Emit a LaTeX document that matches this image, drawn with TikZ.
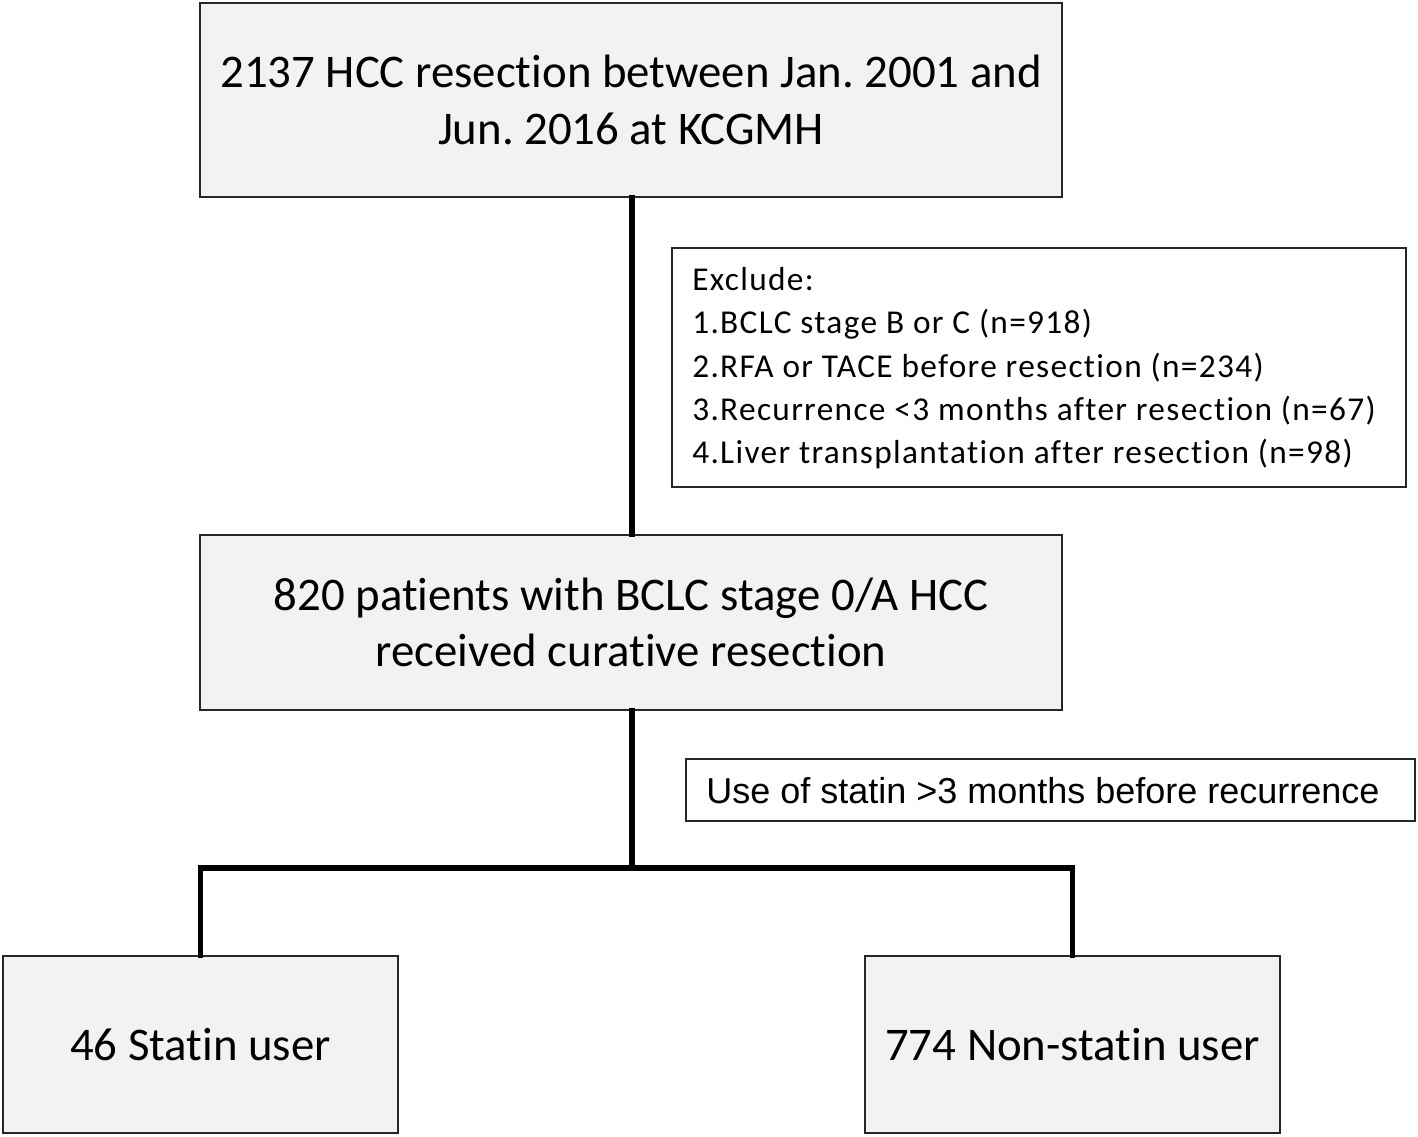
\documentclass[tikz,border=0pt]{standalone}
\usepackage{fontspec}
\setmainfont[Ligatures=NoCommon]{Carlito}
\newfontfamily\spacedfont[Ligatures=NoCommon,LetterSpace=4]{Carlito}
\newfontfamily\arialfont{Liberation Sans}
\frenchspacing
\begin{document}
\begin{tikzpicture}[x=0.75pt,y=-0.75pt,
  box/.style={draw=black!85,line width=1.5pt,fill=gray!10,inner sep=0pt,align=center,font=\fontsize{35.1}{42.3}\selectfont},
  wbox/.style={draw=black!85,line width=1.5pt,fill=white,inner sep=0pt},
  conn/.style={line width=3.8pt,line join=miter,line cap=rect}]
\useasboundingbox (0,0) rectangle (1418,1137);
\node[box,minimum width=862*0.75pt,minimum height=194*0.75pt] (b1) at (631,100)
  {2137 HCC resection between Jan. 2001 and\\Jun. 2016 at KCGMH};
\node[box,minimum width=862*0.75pt,minimum height=175*0.75pt] (b2) at (631,622.5)
  {820 patients with BCLC stage 0/A HCC\\received curative resection};
\node[box,minimum width=395*0.75pt,minimum height=177*0.75pt] (b3) at (200.5,1044.5)
  {46 Statin user};
\node[box,minimum width=415*0.75pt,minimum height=177*0.75pt] (b4) at (1072.5,1044.5)
  {774 Non-statin user};
\node[wbox,minimum width=734*0.75pt,minimum height=239*0.75pt] (ex) at (1039,367.5) {};
\node[anchor=base west,inner sep=0pt,align=left,font=\spacedfont\fontsize{25}{32.6}\selectfont] (ext) at (692,464)
  {Exclude:\\1.BCLC stage B or C (n=918)\\2.RFA or TACE before resection (n=234)\\3.Recurrence {<}3 months after resection (n=67)\\4.Liver transplantation after resection (n=98)};
\node[wbox,minimum width=729*0.75pt,minimum height=62*0.75pt] (st) at (1050.5,790) {};
\node[anchor=west,inner sep=0pt,font=\arialfont\fontsize{27}{32}\selectfont] (stt) at (706,791)
  {Use of statin {>}3 months before recurrence};
\coordinate (j) at (632,868);
\draw[conn] (b1.south -| j) -- (b2.north -| j);
\draw[conn] (b2.south -| j) -- (j);
\draw[conn] (b3.north) |- (j) -| (b4.north);
\end{tikzpicture}
\end{document}
